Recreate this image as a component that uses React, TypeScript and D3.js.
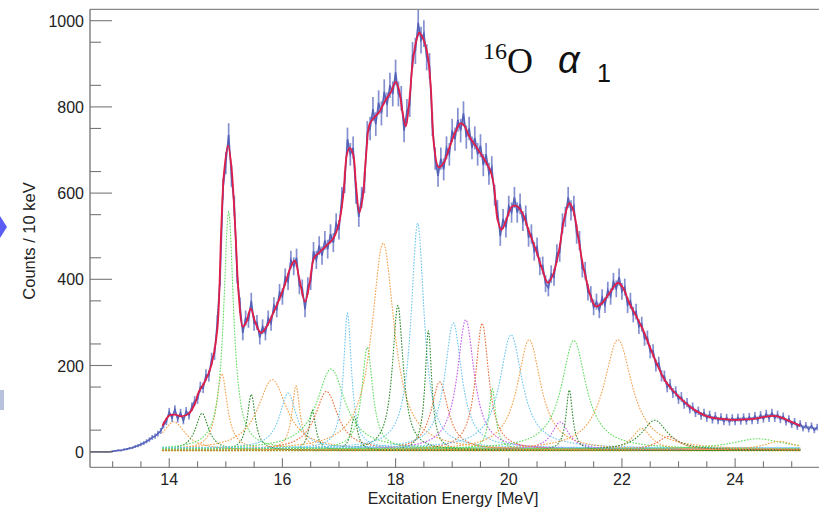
import React from 'react';
import * as d3 from 'd3';

const W = 819;
const H = 512;

// Axis ticks
const xMajorTicks = [14, 16, 18, 20, 22, 24];
const yMajorTicks = [0, 200, 400, 600, 800, 1000];

// Histogram (Counts / 10 keV) sampled every 0.05 MeV from 12.60 MeV
const binStart = 12.6;
const binWidth = 0.05;
const counts = [
  0, 0, 0, 0, 0, 0, 0, 0,
  1, 2, 3, 3, 5, 6, 8, 9, 12, 14,
  17, 20, 24, 28, 33, 36, 42, 48, 62, 70,
  92, 78, 98, 76, 90, 72, 94, 84, 104, 118,
  122, 150, 148, 178, 176, 215, 228, 300, 405, 610,
  670, 735, 640, 570, 410, 340, 275, 310, 305, 350,
  298, 300, 265, 290, 275, 310, 298, 340, 330, 370,
  360, 405, 395, 445, 430, 450, 385, 380, 330, 385,
  395, 465, 445, 478, 455, 490, 470, 505, 485, 530,
  515, 590, 625, 725, 690, 705, 600, 545, 590, 625,
  740, 750, 795, 760, 810, 785, 835, 805, 850, 830,
  880, 830, 820, 745, 790, 805, 920, 930, 995, 955,
  970, 915, 895, 760, 680, 640, 680, 655, 705, 690,
  745, 725, 770, 745, 785, 730, 750, 705, 728, 690,
  710, 665, 690, 645, 660, 595, 560, 500, 540, 520,
  570, 555, 590, 555, 575, 535, 548, 498, 505, 465,
  475, 430, 432, 390, 380, 412, 405, 460, 462, 530,
  545, 590, 560, 570, 505, 490, 425, 420, 370, 365,
  335, 348, 328, 358, 340, 375, 360, 395, 378, 405,
  372, 382, 340, 350, 318, 325, 290, 296, 262, 265,
  232, 234, 200, 206, 176, 175, 150, 156, 136, 140,
  122, 127, 110, 114, 99, 104, 90, 95, 83, 90,
  78, 86, 74, 83, 72, 80, 70, 79, 69, 78,
  70, 79, 71, 80, 71, 81, 72, 83, 73, 85,
  76, 88, 78, 90, 78, 86, 75, 82, 69, 76,
  63, 70, 58, 65, 54, 61, 52, 60, 50, 57,
];

// Total fit (red)
const fitE = [
  13.88, 14.0, 14.1, 14.22, 14.35, 14.45, 14.52, 14.62, 14.72, 14.8, 14.86, 14.92, 14.97, 15.04,
  15.1, 15.17, 15.23, 15.3, 15.36, 15.44, 15.52, 15.62, 15.72, 15.85, 15.95, 16.05, 16.15, 16.22,
  16.3, 16.4, 16.48, 16.56, 16.65, 16.76, 16.9, 17.0, 17.08, 17.14, 17.19, 17.25, 17.3, 17.36,
  17.42, 17.48, 17.54, 17.62, 17.72, 17.82, 17.92, 18.0, 18.06, 18.12, 18.18, 18.24, 18.3, 18.36,
  18.42, 18.48, 18.56, 18.62, 18.68, 18.76, 18.85, 18.95, 19.05, 19.15, 19.22, 19.3, 19.42, 19.57,
  19.68, 19.74, 19.8, 19.87, 19.95, 20.05, 20.14, 20.24, 20.36, 20.48, 20.6, 20.69, 20.78, 20.89,
  20.98, 21.07, 21.14, 21.22, 21.3, 21.37, 21.46, 21.54, 21.65, 21.78, 21.93, 22.02, 22.13, 22.25,
  22.37, 22.49, 22.63, 22.76, 22.9, 23.05, 23.2, 23.37, 23.55, 23.75, 23.96, 24.15, 24.32, 24.5,
  24.67, 24.8, 24.91, 25.05, 25.15,
];
const fitV = [
  60, 84, 86, 82, 89, 110, 138, 160, 190, 235, 300, 520, 650, 710,
  660, 510, 360, 290, 300, 332, 300, 276, 290, 325, 355, 390, 430, 443,
  400, 348, 390, 450, 462, 476, 495, 530, 600, 690, 705, 690, 620, 555,
  590, 690, 760, 775, 790, 815, 835, 858, 840, 790, 755, 810, 900, 950,
  972, 960, 925, 850, 710, 660, 670, 705, 740, 762, 755, 732, 708, 678,
  650, 615, 540, 515, 535, 568, 570, 554, 510, 468, 420, 392, 410, 468,
  540, 577, 560, 505, 440, 399, 355, 337, 345, 368, 392, 380, 345, 315,
  283, 244, 200, 165, 142, 122, 105, 90, 80, 76, 74, 75, 76, 80,
  83, 80, 74, 66, 60,
];

// Fitted resonance components (Breit-Wigner): centre [MeV], height [counts], FWHM [MeV]
const peakCentre = [
  14.08, 14.58, 14.93, 15.05, 15.45, 15.82, 16.1, 16.24, 16.53, 16.78, 16.86, 17.15, 17.27, 17.5,
  17.78, 18.04, 18.39, 18.58, 18.78, 19.02, 19.24, 19.53, 19.71, 20.04, 20.36, 20.91, 21.07, 21.15,
  21.93, 22.35, 22.58, 22.82, 24.4, 24.78,
];
const peakHeight = [
  65, 86, 176, 550, 130, 163, 128, 148, 93, 136, 186, 313, 78, 236,
  480, 336, 522, 278, 158, 291, 301, 294, 140, 263, 256, 64, 140, 252,
  256, 50, 70, 31, 24, 20,
];
const peakWidth = [
  0.5, 0.28, 0.23, 0.21, 0.17, 0.62, 0.36, 0.17, 0.14, 0.48, 0.6, 0.17, 0.14, 0.23,
  0.48, 0.23, 0.28, 0.14, 0.36, 0.36, 0.36, 0.28, 0.14, 0.48, 0.5, 0.36, 0.14, 0.52,
  0.6, 0.4, 0.55, 0.46, 1.1, 0.65,
];
const peakColour = [
  'orange', 'dkgreen', 'orange', 'green', 'dkgreen', 'orange', 'cyan', 'orange', 'dkgreen', 'red', 'green', 'cyan', 'dkgreen', 'green',
  'orange', 'dkgreen', 'cyan', 'dkgreen', 'red', 'cyan', 'magenta', 'red', 'green', 'cyan', 'orange', 'magenta', 'dkgreen', 'green',
  'orange', 'orange', 'dkgreen', 'red', 'green', 'orange',
];
const peakOffset = [
  4, 3, 5, 6, 3, 4, 8, 5, 3, 4, 6, 8, 3, 6,
  4, 3, 8, 3, 4, 8, 5, 4, 6, 8, 4, 5, 3, 6,
  4, 4, 3, 4, 6, 4,
];
const fitRange = [13.88, 25.15];

const palette: Record<string, string> = {
  orange: '#f4a048',
  red: '#e8703c',
  green: '#5fdc5f',
  dkgreen: '#2e8a2e',
  cyan: '#6cc6ee',
  magenta: '#c45ae8',
};

const x = d3.scaleLinear().domain([12.6, 25.5]).range([90, 820]);
const y = d3.scaleLinear().domain([0, 1000]).range([451.7, 20.7]);
const yTop = 9.3;
const yBottom = 467.3;

export default function App() {
  const energies = counts.map((_, i) => binStart + i * binWidth);
  const dataLine = d3
    .line<number>()
    .x((_, i) => x(energies[i]))
    .y((v) => y(v));
  const fitLine = d3
    .line<number>()
    .x((_, i) => x(fitE[i]))
    .y((v) => y(v))
    .curve(d3.curveCatmullRom.alpha(0.5));

  const sampleE = d3.range(fitRange[0], fitRange[1] + 0.001, 0.01);
  const compPaths = peakCentre.map((c, k) => {
    const hw = peakWidth[k] / 2;
    const pts = sampleE.map((e) => {
      const t = (e - c) / hw;
      return [e, peakHeight[k] / (1 + t * t) + peakOffset[k]] as [number, number];
    });
    return d3
      .line<[number, number]>()
      .x((d) => x(d[0]))
      .y((d) => y(d[1]))(pts) as string;
  });

  const xMinor = d3.range(13, 25.5, 0.5).filter((t) => !xMajorTicks.includes(t));
  const yMinor = d3.range(50, 1000, 100);

  const firstNonZero = counts.findIndex((v) => v > 0);

  const sans = 'Liberation Sans, Arial, Helvetica, sans-serif';
  const serif = 'Liberation Serif, Times New Roman, serif';

  return (
    <svg
      width={W}
      height={H}
      style={{ position: 'absolute', left: 0, top: 0, background: '#fff' }}
      xmlns="http://www.w3.org/2000/svg"
    >
      <rect x={0} y={0} width={W} height={H} fill="#fff" />
      {/* slide artifacts at left edge */}
      <polygon points="0,216 7,227 0,238" fill="#5a5cf4" />
      <rect x={0} y={390} width={4} height={20} fill="#b9c2dc" />

      {/* components */}
      <g fill="none" strokeWidth={1.1} strokeDasharray="1.6 1.4">
        <line
          x1={x(fitRange[0])}
          x2={x(fitRange[1])}
          y1={y(2)}
          y2={y(2)}
          stroke="#e8c040"
        />
        {compPaths.map((p, k) => (
          <path key={k} d={p} stroke={palette[peakColour[k]]} />
        ))}
      </g>

      {/* data error bars */}
      <g stroke="#6f7cc8" strokeWidth={1.7} strokeOpacity={0.85}>
        {counts.map((v, i) =>
          v > 0 ? (
            <line
              key={i}
              x1={x(energies[i])}
              x2={x(energies[i])}
              y1={y(v + Math.sqrt(v))}
              y2={y(Math.max(0, v - Math.sqrt(v)))}
            />
          ) : null
        )}
      </g>
      <path d={dataLine(counts) as string} fill="none" stroke="#5462b8" strokeWidth={1.6} />
      <line
        x1={x(binStart)}
        x2={x(energies[firstNonZero])}
        y1={y(0)}
        y2={y(0)}
        stroke="#333"
        strokeWidth={1.2}
      />

      {/* fit */}
      <path d={fitLine(fitV) as string} fill="none" stroke="#e11d48" strokeWidth={1.8} />

      {/* frame */}
      <g stroke="#8a8a8a" strokeWidth={1.2}>
        <line x1={90} x2={W + 2} y1={yTop} y2={yTop} />
        <line x1={90} x2={W + 2} y1={yBottom} y2={yBottom} />
        <line x1={90} x2={90} y1={yTop} y2={yBottom} stroke="#666" />
      </g>

      {/* y axis */}
      <g stroke="#777" strokeWidth={1.1}>
        {yMajorTicks.map((t) => (
          <line key={t} x1={90} x2={112} y1={y(t)} y2={y(t)} />
        ))}
        {yMinor.map((t) => (
          <line key={t} x1={90} x2={101} y1={y(t)} y2={y(t)} />
        ))}
      </g>
      <g fontFamily={sans} fontSize={16} fill="#222" textAnchor="end">
        {yMajorTicks.map((t) => (
          <text key={t} x={84} y={y(t) + 6}>
            {t}
          </text>
        ))}
      </g>
      <text
        transform="translate(35,241) rotate(-90)"
        fontFamily={sans}
        fontSize={16.5}
        fill="#222"
        textAnchor="middle"
      >
        Counts / 10 keV
      </text>

      {/* x axis */}
      <g stroke="#777" strokeWidth={1.1}>
        {xMajorTicks.map((t) => (
          <line key={t} x1={x(t)} x2={x(t)} y1={yBottom} y2={yBottom - 9} />
        ))}
        {xMinor.map((t) => (
          <line key={t} x1={x(t)} x2={x(t)} y1={yBottom} y2={yBottom - 6} />
        ))}
      </g>
      <g fontFamily={sans} fontSize={16} fill="#222" textAnchor="middle">
        {xMajorTicks.map((t) => (
          <text key={t} x={x(t)} y={485}>
            {t}
          </text>
        ))}
      </g>
      <text x={453} y={504} fontFamily={sans} fontSize={16} fill="#222" textAnchor="middle">
        Excitation Energy [MeV]
      </text>

      {/* title */}
      <text x={483} y={59} fontFamily={serif} fontSize={24} fill="#111">
        16
      </text>
      <text x={507} y={73} fontFamily={serif} fontSize={36} fill="#111">
        O
      </text>
      <text x={558} y={73} fontFamily={sans} fontStyle="italic" fontSize={38} fill="#111">
        α
      </text>
      <text x={597} y={82} fontFamily={sans} fontSize={25} fill="#111">
        1
      </text>
    </svg>
  );
}
